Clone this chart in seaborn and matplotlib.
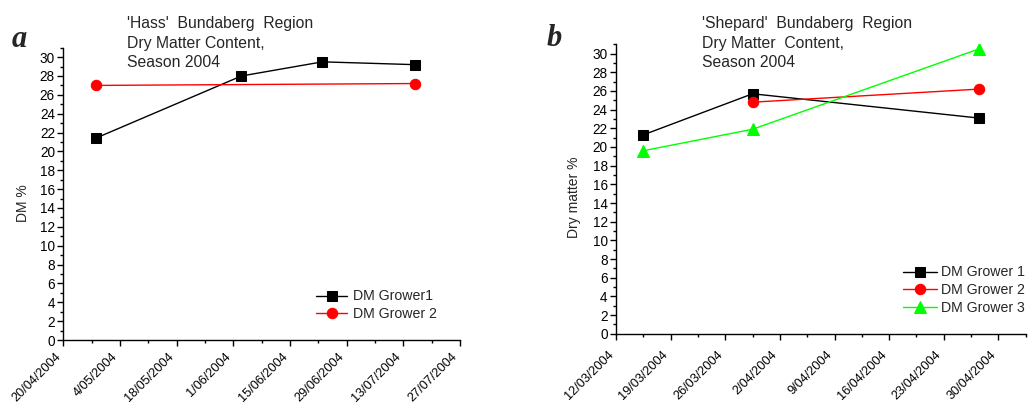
import numpy as np
import pandas as pd
import matplotlib
matplotlib.use("Agg")
import matplotlib.pyplot as plt
import matplotlib.dates as mdates
from matplotlib.ticker import MultipleLocator, FixedLocator, FuncFormatter
import seaborn as sns

# ---------------- data ----------------
# Panel a: 'Hass'
a_g1_dates = ["2004-04-28", "2004-06-03", "2004-06-23", "2004-07-16"]
a_g1_dm = [21.4, 28.0, 29.5, 29.2]
a_g1_err = [0.1, 0.15, 0.15, 0.4]
a_g2_dates = ["2004-04-28", "2004-07-16"]
a_g2_dm = [27.0, 27.2]
a_g2_err = [0.1, 0.1]
a_labels = ["DM Grower1", "DM Grower 2"]
a_ticks = ["2004-04-20", "2004-05-04", "2004-05-18", "2004-06-01",
           "2004-06-15", "2004-06-29", "2004-07-13", "2004-07-27"]

# Panel b: 'Shepard'
b_dates = ["2004-03-15 12:00", "2004-03-29 12:00", "2004-04-27 12:00"]
b_g1_dm = [21.3, 25.7, 23.1]
b_g1_err = [0.2, 0.3, 0.1]
b_g2_dates = ["2004-03-29 12:00", "2004-04-27 12:00"]
b_g2_dm = [24.8, 26.2]
b_g2_err = [0.4, 0.1]
b_g3_dm = [19.6, 21.9, 30.5]
b_g3_err = [0.6, 0.6, 0.6]
b_labels = ["DM Grower 1", "DM Grower 2", "DM Grower 3"]
b_ticks = ["2004-03-12", "2004-03-19", "2004-03-26", "2004-04-02",
           "2004-04-09", "2004-04-16", "2004-04-23", "2004-04-30"]
b_xmax = "2004-05-03 12:00"

# ---------------- style ----------------
sns.set_theme(style="ticks")
plt.rcParams["font.family"] = ["Liberation Sans", "DejaVu Sans"]
plt.rcParams["axes.linewidth"] = 1.0
plt.rcParams["xtick.major.size"] = 4
plt.rcParams["ytick.major.size"] = 4
plt.rcParams["xtick.minor.size"] = 2.5
plt.rcParams["ytick.minor.size"] = 2.5
plt.rcParams["xtick.major.width"] = 1.0
plt.rcParams["ytick.major.width"] = 1.0
plt.rcParams["xtick.minor.width"] = 1.0
plt.rcParams["ytick.minor.width"] = 1.0
plt.rcParams["xtick.color"] = "black"
plt.rcParams["ytick.color"] = "black"
plt.rcParams["axes.edgecolor"] = "black"

W, H = 1031, 403
fig = plt.figure(figsize=(W / 100, H / 100), dpi=100)

def fx(px):
    return px / W

def fy(py):
    return 1 - py / H

ax_a = fig.add_axes([fx(63.3), fy(340), fx(460) - fx(63.3), fy(47.7) - fy(340)])
ax_b = fig.add_axes([fx(616), fy(333.7), fx(1025.7) - fx(616), fy(44.3) - fy(333.7)])

BLACK, RED, GREEN = "#000000", "#FF0000", "#00FF00"

def series(ax, dates, vals, errs, color, marker, ms, label):
    d = pd.to_datetime(dates)
    sns.lineplot(x=d, y=vals, color=color, marker=marker, markersize=ms,
                 markeredgecolor=color, linewidth=1.0, label=label, ax=ax)
    ax.errorbar(d, vals, yerr=errs, fmt="none", ecolor=color, elinewidth=1.0,
                capsize=0, label="_nolegend_")

series(ax_a, a_g1_dates, a_g1_dm, a_g1_err, BLACK, "s", 7, a_labels[0])
series(ax_a, a_g2_dates, a_g2_dm, a_g2_err, RED, "o", 7.5, a_labels[1])

series(ax_b, b_dates, b_g1_dm, b_g1_err, BLACK, "s", 7, b_labels[0])
series(ax_b, b_g2_dates, b_g2_dm, b_g2_err, RED, "o", 7.5, b_labels[1])
series(ax_b, b_dates, b_g3_dm, b_g3_err, GREEN, "^", 8, b_labels[2])

def date_fmt(x, pos):
    d = mdates.num2date(x)
    return f"{d.day}/{d.month:02d}/{d.year}"

def style_axis(ax, ticks, xmax, minor_step, ylabel, label_xy, xpad):
    tnum = mdates.date2num(pd.to_datetime(ticks))
    xmin = tnum[0]
    xmaxn = mdates.date2num(pd.to_datetime(xmax))
    ax.set_xlim(xmin, xmaxn)
    ax.xaxis.set_major_locator(FixedLocator(tnum))
    ax.xaxis.set_minor_locator(FixedLocator(np.arange(xmin, xmaxn + 0.01, minor_step)))
    ax.xaxis.set_major_formatter(FuncFormatter(date_fmt))
    ax.set_ylim(0, 31)
    ax.yaxis.set_major_locator(MultipleLocator(2))
    ax.yaxis.set_minor_locator(MultipleLocator(1))
    ax.tick_params(axis="both", which="both", direction="out")
    ax.tick_params(axis="y", pad=2, labelsize=9.8)
    ax.tick_params(axis="x", pad=xpad, labelsize=9.2)
    ax.spines["top"].set_visible(False)
    ax.spines["right"].set_visible(False)
    ax.set_xlabel("")
    ax.set_ylabel(ylabel, fontsize=10)
    ax.yaxis.set_label_coords(*label_xy)
    for lab in ax.get_xticklabels():
        lab.set_rotation(45)
        lab.set_ha("right")
        lab.set_va("top")
        lab.set_rotation_mode("default")

style_axis(ax_a, a_ticks, a_ticks[-1], 7, "DM %", (-0.085, 0.467), 3.5)
style_axis(ax_b, b_ticks, b_xmax, 3.5, "Dry matter %", (-0.086, 0.472), 7.0)

# legends
ax_a.legend(loc="upper left", bbox_to_anchor=(fx(316), fy(289.5)),
            bbox_transform=fig.transFigure, frameon=False, fontsize=10.2,
            handlelength=2.2, handletextpad=0.4, labelspacing=0.25,
            borderpad=0, borderaxespad=0)
ax_b.legend(loc="upper left", bbox_to_anchor=(fx(902.7), fy(265.5)),
            bbox_transform=fig.transFigure, frameon=False, fontsize=10.2,
            handlelength=2.4, handletextpad=0.3, labelspacing=0.25,
            borderpad=0, borderaxespad=0)

# titles
fig.text(fx(126.7), fy(16), "'Hass'  Bundaberg  Region\nDry Matter Content,\nSeason 2004",
         ha="left", va="top", fontsize=11.3, linespacing=1.38)
fig.text(fx(701.7), fy(16), "'Shepard'  Bundaberg  Region\nDry Matter  Content,\nSeason 2004",
         ha="left", va="top", fontsize=11.3, linespacing=1.38)

# panel letters
fig.text(fx(12), fy(47), "a", ha="left", va="baseline", fontsize=22,
         family=["Liberation Serif", "DejaVu Serif"], weight="bold", style="italic")
fig.text(fx(547), fy(46), "b", ha="left", va="baseline", fontsize=22,
         family=["Liberation Serif", "DejaVu Serif"], weight="bold", style="italic")

fig.savefig("out.png", dpi=100)
